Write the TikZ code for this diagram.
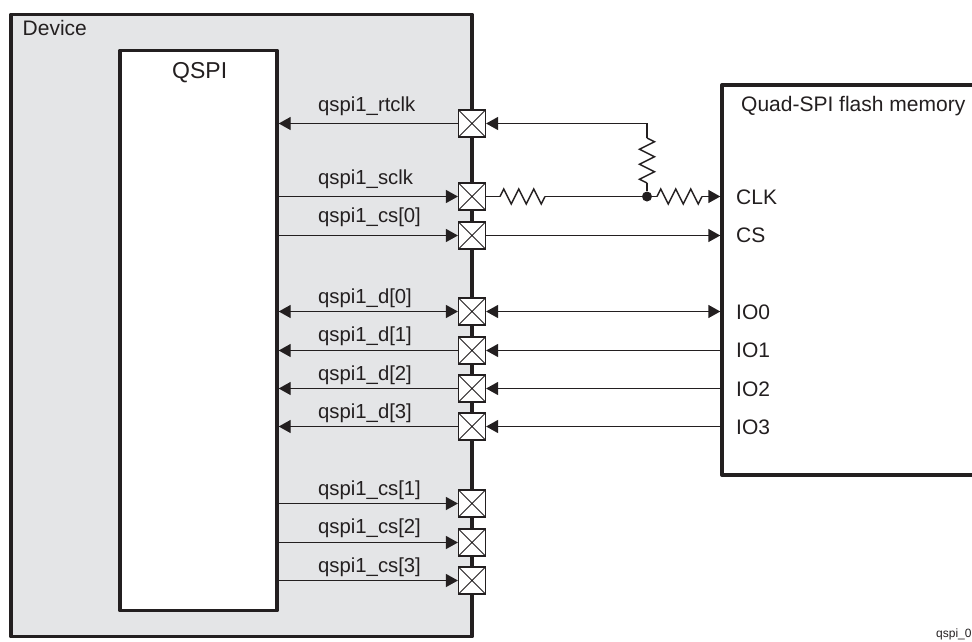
\documentclass[tikz,border=0pt]{standalone}
\usepackage{fontspec}
\setmainfont{Liberation Sans}
\usetikzlibrary{arrows.meta,decorations.pathmorphing}
\definecolor{inkdark}{HTML}{231F20}
\definecolor{devicegray}{HTML}{E4E5E7}
\tikzset{
  blockbox/.style={draw=inkdark,line width=3.4pt,line join=round,minimum width=#1,inner sep=0pt},
  padbox/.style={draw=inkdark,fill=white,line width=1.2pt,minimum size=27pt,inner sep=0pt,
    path picture={\draw[inkdark,line width=1pt] (path picture bounding box.south west) -- (path picture bounding box.north east)
      (path picture bounding box.north west) -- (path picture bounding box.south east);}},
  wire/.style={draw=inkdark,line width=1.4pt},
  tipend/.style={wire,-{Triangle[length=12pt,width=13pt]}},
  tipboth/.style={wire,{Triangle[length=12pt,width=13pt]}-{Triangle[length=12pt,width=13pt]}},
  tipstart/.style={wire,{Triangle[length=12pt,width=13pt]}-},
  zigzagres/.style={wire,decorate,decoration={zigzag,amplitude=7.5pt,segment length=15pt}},
  textlabel/.style={text=inkdark,anchor=base west,inner sep=0pt},
}
\begin{document}
\begin{tikzpicture}[x=1pt,y=-1pt,font=\fontsize{21}{25}\selectfont]
\useasboundingbox (0,0) rectangle (972,641);
% blocks
\node[blockbox=461pt,fill=devicegray,minimum height=622.5pt] (device) at (241.5,325.5) {};
\node[blockbox=157pt,fill=white,minimum height=560.5pt] (qspi) at (198.5,330.5) {};
\node[blockbox=278pt,fill=white,minimum height=390pt] (flash) at (861,280) {};
\node[textlabel] (devicetitle) at (22.5,35) {Device};
\node[textlabel,font=\fontsize{23}{27}\selectfont] (qspititle) at (172,78) {QSPI};
\node[textlabel] (flashtitle) at (741,111) {Quad-SPI flash memory};
% pads and signal names
\foreach \padname/\ypos/\baseline/\signame in {rtclk/123.5/111/rtclk,sclk/196.5/184/sclk,csa/235.5/222/cs[0],
    da/311.5/303.3/d[0],db/350.5/341.7/d[1],dc/388.5/380/d[2],dd/426.5/418.3/d[3],
    csb/503.5/495/cs[1],csc/542.5/533/cs[2],csd/580.5/572/cs[3]}{
  \node[padbox] (pad\padname) at (472,\ypos) {};
  \node[textlabel,font=\fontsize{20.3}{24}\selectfont] (lbl\padname) at (318,\baseline) {qspi1\_\signame};
}
% pins on the flash
\foreach \padname/\baseline/\pinname in {sclk/204/CLK,csa/242/CS,da/319.3/IO0,db/357.7/IO1,dc/396/IO2,dd/434/IO3}{
  \node[textlabel] (pin\padname) at (736,\baseline) {\pinname};
}
% inside the device
\draw[tipstart] (qspi.east |- padrtclk) -- (padrtclk.west);
\foreach \padname in {sclk,csa,csb,csc,csd}{
  \draw[tipend] (qspi.east |- pad\padname) -- (pad\padname.west);
}
\draw[tipboth] (qspi.east |- padda) -- (padda.west);
\foreach \padname in {db,dc,dd}{
  \draw[tipstart] (qspi.east |- pad\padname) -- (pad\padname.west);
}
% clock path
\node[circle,fill=inkdark,minimum size=10pt,inner sep=0pt] (clkdot) at (647,196.5) {};
\coordinate (rtcorner) at (647,123.5);
\coordinate (rtresa) at (647,138);
\coordinate (rtresb) at (647,183);
\coordinate (sclkresa) at (500,196.5);
\coordinate (sclkresb) at (545,196.5);
\coordinate (clkresa) at (657,196.5);
\coordinate (clkresb) at (702,196.5);
\draw[tipstart] (padrtclk.east) -- (rtcorner) -- (rtresa);
\draw[zigzagres] (rtresa) -- (rtresb);
\draw[wire] (rtresb) -- (clkdot);
\draw[wire] (padsclk.east) -- (sclkresa);
\draw[zigzagres] (sclkresa) -- (sclkresb);
\draw[wire] (sclkresb) -- (clkdot);
\draw[wire] (clkdot) -- (clkresa);
\draw[zigzagres] (clkresa) -- (clkresb);
\draw[tipend] (clkresb) -- (flash.west |- clkresb);
% other flash wires
\draw[tipend] (padcsa.east) -- (flash.west |- padcsa);
\draw[tipboth] (padda.east) -- (flash.west |- padda);
\foreach \padname in {db,dc,dd}{
  \draw[tipstart] (pad\padname.east) -- (flash.west |- pad\padname);
}
\node[textlabel,font=\fontsize{12}{14}\selectfont] (figtag) at (936,637) {qspi\_0};
\end{tikzpicture}
\end{document}
